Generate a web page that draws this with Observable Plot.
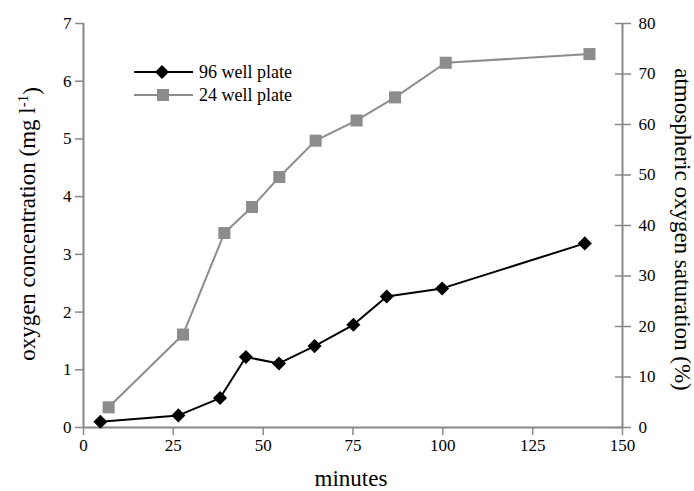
<!DOCTYPE html>
<html><head><meta charset="utf-8">
<script src="https://cdn.jsdelivr.net/npm/d3@7"></script>
<script src="https://cdn.jsdelivr.net/npm/@observablehq/plot@0.6"></script>
<style>body{margin:0;background:#fff} svg text{font-family:"Liberation Serif","DejaVu Serif",Times,serif !important}</style>
</head><body><div id="wrap"></div>
<script>
// ---- data ----
const minutes96 = [4.7, 26.4, 38, 45.2, 54.4, 64.3, 75.1, 84.4, 99.8, 139.5];
const conc96    = [0.1, 0.21, 0.51, 1.22, 1.11, 1.41, 1.78, 2.27, 2.41, 3.19];
const minutes24 = [7, 27.7, 39.2, 46.9, 54.5, 64.6, 76, 86.7, 100.8, 140.8];
const conc24    = [0.35, 1.61, 3.37, 3.82, 4.34, 4.97, 5.32, 5.72, 6.32, 6.47];
const xTicks = [0, 25, 50, 75, 100, 125, 150];
const yTicks = [0, 1, 2, 3, 4, 5, 6, 7];
const satTicks = [0, 10, 20, 30, 40, 50, 60, 70, 80];
const seriesNames = ["96 well plate", "24 well plate"];
const seriesColors = ["#000000", "#8c8c8c"];
const xLabel = "minutes";
const yLabelMain = "oxygen concentration (mg l";
const yLabelSup = "-1";
const yLabelEnd = ")";
const y2Label = "atmospheric oxygen saturation (%)";

const rows96 = minutes96.map((t, i) => ({t, c: conc96[i]}));
const rows24 = minutes24.map((t, i) => ({t, c: conc24[i]}));
const satToConc = v => v * 7 / 80;
const axisGray = "#888888";

const plot = Plot.plot({
  width: 694, height: 491,
  marginLeft: 83, marginRight: 72, marginTop: 23, marginBottom: 64,
  style: {fontSize: "17px", color: "#000", background: "#fff"},
  x: {domain: [0, 150]},
  y: {domain: [0, 7]},
  marks: [
    Plot.axisX({ticks: xTicks, tickFormat: d => String(d), tickSize: 8, tickPadding: 3, stroke: axisGray, strokeWidth: 1.5, label: null}),
    Plot.axisY({ticks: yTicks, tickFormat: d => String(d), tickSize: 8, tickPadding: 4, stroke: axisGray, strokeWidth: 1.5, label: null}),
    Plot.axisY({anchor: "right", ticks: satTicks.map(satToConc), tickFormat: d => String(Math.round(d * 80 / 7)),
      tickSize: 16, dx: -8, tickPadding: 8, stroke: axisGray, strokeWidth: 1.5, label: null}),
    Plot.ruleX([0, 150], {stroke: axisGray, strokeWidth: 2}),
    Plot.ruleY([0], {stroke: axisGray, strokeWidth: 2}),
    Plot.line(rows24, {x: "t", y: "c", stroke: seriesColors[1], strokeWidth: 2}),
    Plot.dot(rows24, {x: "t", y: "c", symbol: "square", r: 6.8, fill: seriesColors[1], stroke: "none"}),
    Plot.line(rows96, {x: "t", y: "c", stroke: seriesColors[0], strokeWidth: 2}),
    Plot.dot(rows96, {x: "t", y: "c", symbol: "square", rotate: 45, r: 5.6, fill: seriesColors[0], stroke: "none"}),
    Plot.text([xLabel], {text: d => d, frameAnchor: "bottom", textAnchor: "middle", lineAnchor: "middle", dx: -2, dy: 51, fontSize: 23}),
    Plot.text([y2Label], {text: d => d, frameAnchor: "right", textAnchor: "middle", lineAnchor: "middle", dx: 60, dy: 4, rotate: 90, fontSize: 23})
  ]
});

document.getElementById("wrap").appendChild(plot);

// left y label with superscript
const svg = d3.select(plot);
const yl = svg.append("text")
  .attr("transform", "translate(27,224) rotate(-90)")
  .attr("text-anchor", "middle")
  .attr("dy", "0.35em")
  .attr("font-size", 23)
  .attr("fill", "#000");
yl.append("tspan").text(yLabelMain);
yl.append("tspan").attr("dy", "-0.45em").attr("font-size", 15).text(yLabelSup);
yl.append("tspan").attr("dy", "0.45em").text(yLabelEnd);

// legend
const lg = svg.append("g").attr("transform", "translate(134,72)");
seriesNames.forEach((name, i) => {
  const g = lg.append("g").attr("transform", `translate(0,${i * 23})`);
  g.append("line").attr("x1", 0).attr("x2", 59).attr("y1", 0).attr("y2", 0)
    .attr("stroke", seriesColors[i]).attr("stroke-width", 2);
  if (i === 0) {
    g.append("path").attr("d", d3.symbol(d3.symbolSquare, 98)()).attr("transform", "translate(28,0) rotate(45)").attr("fill", seriesColors[i]);
  } else {
    g.append("path").attr("d", d3.symbol(d3.symbolSquare, 144)()).attr("transform", "translate(29,0)").attr("fill", seriesColors[i]);
  }
  g.append("text").attr("x", 65).attr("dy", "0.35em").attr("text-anchor", "start")
    .attr("font-size", 18).attr("fill", "#000").text(name);
});
</script>
</body></html>
